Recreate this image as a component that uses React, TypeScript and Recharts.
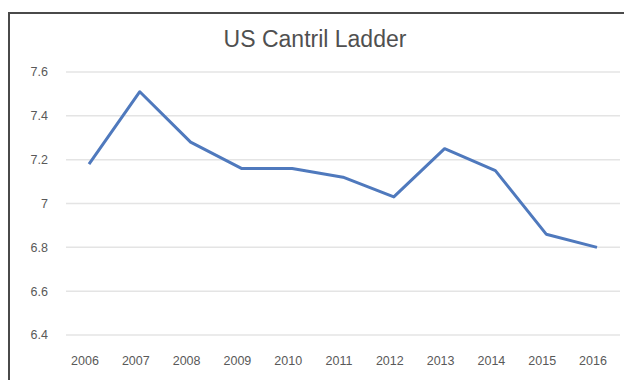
import { CartesianGrid, Line, LineChart, XAxis, YAxis } from "recharts";

const years = ["2006", "2007", "2008", "2009", "2010", "2011", "2012", "2013", "2014", "2015", "2016"];
const ladder = [7.18, 7.51, 7.28, 7.16, 7.16, 7.12, 7.03, 7.25, 7.15, 6.86, 6.8];
const yTicks = [6.4, 6.6, 6.8, 7, 7.2, 7.4, 7.6];

const data = years.map((year, i) => ({ year, value: ladder[i] }));

const font = "'Liberation Sans', Arial, Helvetica, sans-serif";
const tickStyle = { fontSize: 12.5, fill: "#595959", fontFamily: font };

export default function App() {
  return (
    <div
      style={{
        position: "fixed",
        left: 0,
        top: 0,
        width: 624,
        height: 380,
        overflow: "hidden",
        background: "#fff",
      }}
    >
      <div
        style={{
          position: "absolute",
          left: 8,
          top: 12,
          width: 616,
          height: 368,
          borderLeft: "2px solid #4a4a4a",
          borderTop: "2px solid #4a4a4a",
          boxSizing: "border-box",
        }}
      >
        <div
          style={{
            position: "absolute",
            top: 12,
            left: 0,
            width: 610,
            textAlign: "center",
            fontFamily: font,
            fontSize: 23,
            color: "#505050",
          }}
        >
          US Cantril Ladder
        </div>
        <LineChart
          width={614}
          height={358}
          data={data}
          margin={{ top: 58, right: 4, bottom: 7, left: 0 }}
        >
          <CartesianGrid stroke="#e4e4e4" strokeWidth={1.5} vertical={false} />
          <XAxis
            dataKey="year"
            height={30}
            axisLine={false}
            tickLine={false}
            tickMargin={15}
            tick={{ ...tickStyle, dx: -4 }}
            padding={{ left: 23, right: 23 }}
            interval={0}
          />
          <YAxis
            domain={[6.4, 7.6]}
            ticks={yTicks}
            axisLine={false}
            tickLine={false}
            tickMargin={12}
            width={56}
            tick={tickStyle}
            tickFormatter={(v: number) => String(Number(v.toFixed(1)))}
          />
          <Line
            type="linear"
            dataKey="value"
            stroke="#4f79bd"
            strokeWidth={3}
            strokeLinejoin="round"
            dot={false}
            activeDot={false}
            isAnimationActive={false}
          />
        </LineChart>
      </div>
    </div>
  );
}
